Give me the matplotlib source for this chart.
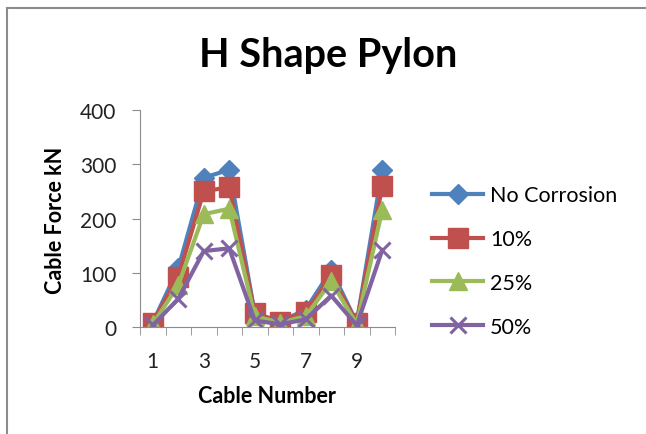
import matplotlib
matplotlib.use("Agg")
import matplotlib.pyplot as plt
from matplotlib.lines import Line2D

plt.rcParams["font.family"] = ["Lato", "DejaVu Sans"]

# cable forces (kN) per cable for each corrosion level
cables = [1, 2, 3, 4, 5, 6, 7, 8, 9, 10]
no_corrosion = [8, 108, 275, 290, 25, 10, 32, 105, 8, 290]
corr_10 = [8, 93, 250, 258, 25, 10, 27, 95, 8, 260]
corr_25 = [5, 77, 208, 218, 20, 8, 20, 84, 5, 216]
corr_50 = [3, 52, 140, 145, 12, 5, 14, 58, 3, 142]

series = [
    ("No Corrosion", no_corrosion, "#4F81BD", "D", 10.5),
    ("10%", corr_10, "#C0504D", "s", 14),
    ("25%", corr_25, "#9BBB59", "^", 13),
    ("50%", corr_50, "#8064A2", "x", 12),
]

W, H = 646, 435
fig = plt.figure(figsize=(W / 100, H / 100), dpi=100)
fig.patch.set_facecolor("white")

# chart frame: only top and left edges fall inside the image
fig.add_artist(Line2D([7 / W, 1.05], [1 - 9 / H, 1 - 9 / H], color="#8C8C8C", lw=1.5))
fig.add_artist(Line2D([7 / W, 7 / W], [-0.05, 1 - 9 / H], color="#8C8C8C", lw=1.5))

ax = fig.add_axes([140 / W, 1 - 328 / H, 255 / W, 217 / H])

for name, vals, col, mk, ms in series:
    kw = dict(markeredgewidth=2.2) if mk == "x" else dict(markeredgecolor=col)
    ax.plot(cables, vals, color=col, lw=3, marker=mk, markersize=ms,
            markerfacecolor=col, label=name, **kw)

ax.set_xlim(0.5, 10.5)
ax.set_ylim(0, 400)
ax.set_yticks([0, 100, 200, 300, 400])
ax.set_xticks([1, 3, 5, 7, 9])
ax.set_xticks([c - 0.5 for c in cables] + [10.5], minor=True)
ax.tick_params(axis="x", which="major", length=0, pad=17, labelsize=15, colors="#222222")
ax.tick_params(axis="x", which="minor", length=6, color="#8C8C8C")
ax.tick_params(axis="y", length=6, color="#8C8C8C", labelsize=15, colors="#222222", pad=11)
for s in ["top", "right"]:
    ax.spines[s].set_visible(False)
for s in ["left", "bottom"]:
    ax.spines[s].set_color("#8C8C8C")

fig.text(267 / W, 1 - 397 / H, "Cable Number", ha="center", va="center",
         fontsize=15.5, fontweight="bold")
fig.text(56 / W, 1 - 220 / H, "Cable Force kN", ha="center", va="center",
         rotation=90, fontsize=15.5, fontweight="bold")

fig.text(328 / W, 1 - 56 / H, "H Shape Pylon", ha="center", va="center",
         fontsize=28.5, fontweight="bold")

fig.legend(loc="center left", bbox_to_anchor=(432 / W, 1 - 262 / H), frameon=False,
           fontsize=15.5, labelspacing=1.1, handlelength=2.37, handletextpad=0.33,
           borderpad=0, borderaxespad=0)

fig.savefig("out.png", dpi=100, facecolor="white")
